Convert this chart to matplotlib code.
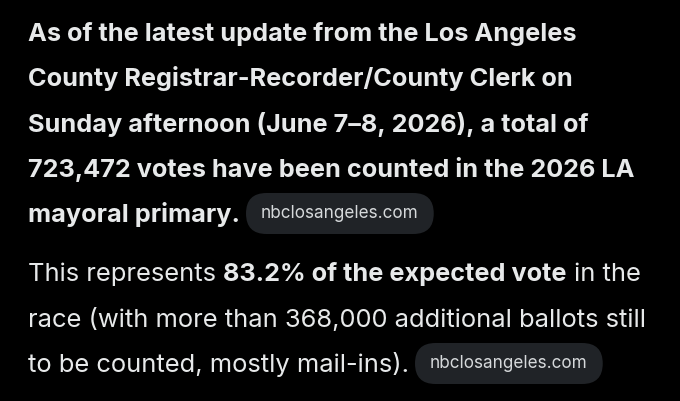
import matplotlib
matplotlib.use('Agg')
from matplotlib import pyplot as plt
from matplotlib.patches import FancyBboxPatch

# each line: list of (text, bold) pieces; 'chip' marks a source pill
para1 = [
    [('As of the latest update from the Los Angeles', True)],
    [('County Registrar-Recorder/County Clerk on', True)],
    [('Sunday afternoon (June 7\u20138, 2026), a total of', True)],
    [('723,472 votes have been counted in the 2026 LA', True)],
    [('mayoral primary.', True), ('nbclosangeles.com', 'chip')],
]
para2 = [
    [('This represents ', False), ('83.2% of the expected vote', True), (' in the', False)],
    [('race (with more than 368,000 additional ballots still', False)],
    [('to be counted, mostly mail-ins).', False), ('nbclosangeles.com', 'chip')],
]
baselines1 = [41, 86, 132, 177, 222]
baselines2 = [281, 327, 372]

bg = '#000000'
fg = '#e7e9ea'
chip_bg = '#202327'
chip_fg = '#d6d9db'
family = ['Inter', 'DejaVu Sans']
size_bold = 18.2
size_reg = 18.4

fig = plt.figure(figsize=(6.8, 4.01), dpi=100, facecolor=bg)
ax = fig.add_axes([0, 0, 1, 1])
ax.set_xlim(0, 680)
ax.set_ylim(401, 0)
ax.axis('off')
ax.set_facecolor(bg)
fig.canvas.draw()
r = fig.canvas.get_renderer()


def draw_line(pieces, y):
    x = 28
    for txt, kind in pieces:
        if kind == 'chip':
            x += 6
            t = ax.text(x + 15, y - 8.5, txt, color=chip_fg, fontsize=12.3,
                        family=family, va='center', ha='left', zorder=3)
            w = t.get_window_extent(r).width
            box = FancyBboxPatch((x, y - 29), w + 30, 41,
                                 boxstyle='round,pad=0,rounding_size=20.5',
                                 fc=chip_bg, ec='none', zorder=2)
            ax.add_patch(box)
            x += w + 30
        else:
            t = ax.text(x, y, txt, color=fg,
                        fontsize=size_bold if kind else size_reg, family=family,
                        fontweight='bold' if kind else 'normal',
                        va='baseline', ha='left')
            x += t.get_window_extent(r).width


for line, y in zip(para1, baselines1):
    draw_line(line, y)
for line, y in zip(para2, baselines2):
    draw_line(line, y)

fig.savefig('out.png', dpi=100, facecolor=bg)
